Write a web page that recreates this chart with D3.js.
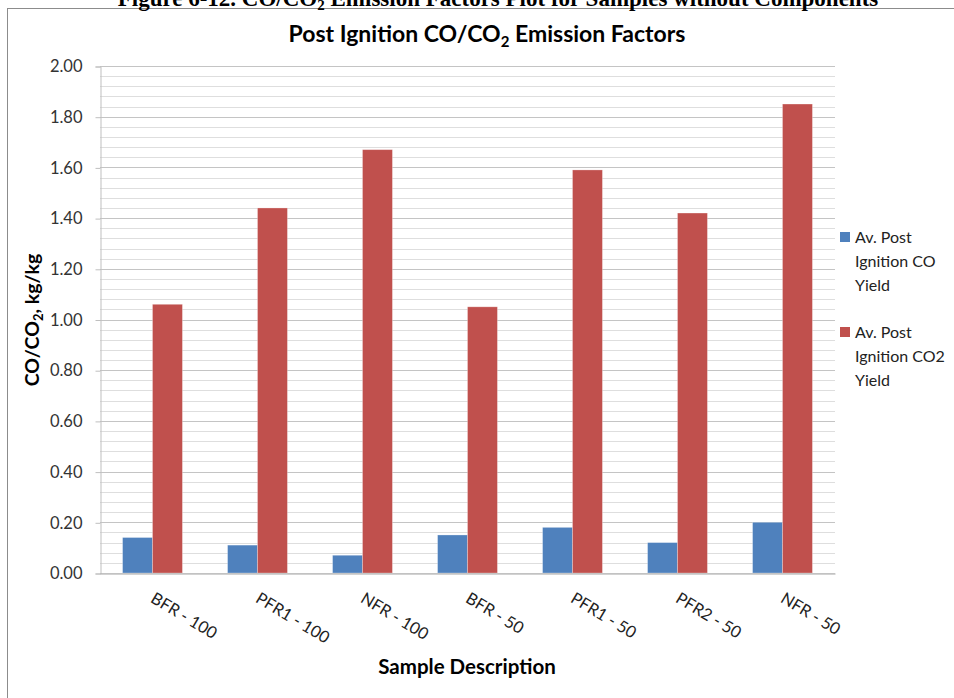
<!DOCTYPE html>
<html>
<head>
<meta charset="utf-8">
<script src="https://cdn.jsdelivr.net/npm/d3@7"></script>
<style>
  html, body { margin: 0; padding: 0; background: #fff; }
  svg { display: block; }
</style>
</head>
<body>
<svg id="chart" width="954" height="698"></svg>
<script>
// ---- data ----
const categories = ["BFR - 100", "PFR1 - 100", "NFR - 100", "BFR - 50", "PFR1 - 50", "PFR2 - 50", "NFR - 50"];
const coYield  = [0.14, 0.11, 0.07, 0.15, 0.18, 0.12, 0.20];
const co2Yield = [1.06, 1.44, 1.67, 1.05, 1.59, 1.42, 1.85];
const seriesNames = ["Av. Post Ignition CO Yield", "Av. Post Ignition CO2 Yield"];
const legendLines = [["Av. Post", "Ignition CO", "Yield"], ["Av. Post", "Ignition CO2", "Yield"]];
const yTicks = [0, 0.2, 0.4, 0.6, 0.8, 1.0, 1.2, 1.4, 1.6, 1.8, 2.0];
const yMinorStep = 0.04;

const colors = ["#4F81BD", "#C0504D"];
const FONT = "Lato, 'Open Sans', sans-serif";

const svg = d3.select("#chart");

// frame
svg.append("rect").attr("x", 7.5).attr("y", 8.5).attr("width", 1000).attr("height", 1000)
  .attr("fill", "#fff").attr("stroke", "#8c8c8c").attr("stroke-width", 1);

// cut-off document caption
const cap = svg.append("text").attr("x", 498).attr("y", 6).attr("text-anchor", "middle")
  .attr("font-family", "'Liberation Serif', 'Times New Roman', serif")
  .attr("font-weight", "bold").attr("font-size", 23).attr("fill", "#000");
cap.append("tspan").text("Figure 6-12. CO/CO");
cap.append("tspan").attr("font-size", 15).attr("dy", 4).text("2");
cap.append("tspan").attr("dy", -4).text(" Emission Factors Plot for Samples without Components");

// plot geometry
const pLeft = 100, pRight = 835, pTop = 66, pBottom = 573;

const x = d3.scaleBand().domain(categories).range([pLeft, pRight])
  .paddingInner(0.43).paddingOuter(0.215);
const xs = d3.scaleBand().domain([0, 1]).range([0, x.bandwidth()]);
const y = d3.scaleLinear().domain([0, 2]).range([pBottom, pTop]);

// minor gridlines
const minor = d3.range(0, 2.0001, yMinorStep);
svg.append("g").selectAll("line").data(minor).join("line")
  .attr("x1", pLeft).attr("x2", pRight)
  .attr("y1", d => Math.round(y(d)) + 0.5).attr("y2", d => Math.round(y(d)) + 0.5)
  .attr("stroke", "#dedede").attr("stroke-width", 1);
// major gridlines
svg.append("g").selectAll("line").data(yTicks.slice(1)).join("line")
  .attr("x1", pLeft).attr("x2", pRight)
  .attr("y1", d => Math.round(y(d)) + 0.5).attr("y2", d => Math.round(y(d)) + 0.5)
  .attr("stroke", "#c4c4c4").attr("stroke-width", 1);

// y axis
const yAxis = d3.axisLeft(y).tickValues(yTicks).tickFormat(d3.format(".2f")).tickSize(5).tickPadding(13);
const gy = svg.append("g").attr("transform", `translate(${pLeft + 0.5},0.5)`).call(yAxis);
gy.select(".domain").attr("stroke", "#bfbfbf");
gy.selectAll(".tick line").attr("stroke", "#bfbfbf");
gy.selectAll(".tick text").attr("font-family", FONT).attr("font-size", 16.5).attr("fill", "#333");

// bars
const series = [coYield, co2Yield];
const gBars = svg.append("g");
series.forEach((vals, si) => {
  gBars.append("g").selectAll("rect").data(vals).join("rect")
    .attr("x", (d, i) => x(categories[i]) + xs(si))
    .attr("width", xs.bandwidth())
    .attr("y", d => y(d))
    .attr("height", d => y(0) - y(d))
    .attr("fill", colors[si])
    .attr("stroke", "rgba(255,255,255,0.35)").attr("stroke-width", 0.8);
});

// x axis
const xAxis = d3.axisBottom(x).tickSize(0).tickPadding(0);
const gx = svg.append("g").attr("transform", `translate(0,${pBottom + 0.5})`).call(xAxis);
gx.select(".domain").attr("stroke", "#a6a6a6");
gx.selectAll(".tick text")
  .attr("font-family", FONT).attr("font-size", 16.5).attr("fill", "#222")
  .attr("text-anchor", "start").attr("dy", 0)
  .attr("transform", "translate(-3,28) rotate(31)");

// title
const title = svg.append("text").attr("x", 487).attr("y", 42).attr("text-anchor", "middle")
  .attr("font-family", FONT).attr("font-weight", "bold").attr("font-size", 23).attr("fill", "#000");
title.append("tspan").text("Post Ignition CO/CO");
title.append("tspan").attr("font-size", 15).attr("dy", 5).text("2");
title.append("tspan").attr("dy", -5).text(" Emission Factors");

// y label
const yl = svg.append("text").attr("transform", "translate(39,320) rotate(-90)")
  .attr("text-anchor", "middle")
  .attr("font-family", FONT).attr("font-weight", "bold").attr("font-size", 19.5).attr("fill", "#000");
yl.append("tspan").text("CO/CO");
yl.append("tspan").attr("font-size", 13).attr("dy", 4).text("2");
yl.append("tspan").attr("dy", -4).text(", kg/kg");

// x label
svg.append("text").attr("x", 467).attr("y", 674).attr("text-anchor", "middle")
  .attr("font-family", FONT).attr("font-weight", "bold").attr("font-size", 20.5).attr("fill", "#000")
  .text("Sample Description");

// legend
const lg = svg.append("g");
seriesNames.forEach((name, si) => {
  const y0 = 232 + si * 95;
  lg.append("rect").attr("x", 840).attr("y", y0).attr("width", 10).attr("height", 10).attr("fill", colors[si]);
  legendLines[si].forEach((ln, li) => {
    lg.append("text").attr("x", 855).attr("y", y0 + 11 + li * 24)
      .attr("font-family", FONT).attr("font-size", 16).attr("fill", "#222").text(ln);
  });
});
</script>
</body>
</html>
